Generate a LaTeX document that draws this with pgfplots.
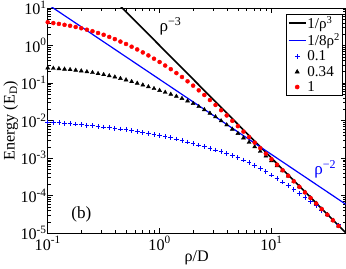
\documentclass[border=0pt]{standalone}
\usepackage{fontspec}
\setmainfont{Liberation Serif}
\usepackage{pgfplots}
\usepackage{pgfplotstable}
\pgfplotsset{compat=1.18}
\pgfplotstableread{
rho a b c
0.1000 0.00912 0.2512 4.17
0.1122 0.00891 0.246 3.96
0.1259 0.00871 0.241 3.76
0.1413 0.00847 0.234 3.55
0.1585 0.00826 0.2275 3.35
0.1778 0.00800 0.219 3.11
0.1995 0.00776 0.210 2.88
0.2239 0.00750 0.1995 2.63
0.2512 0.00724 0.190 2.40
0.2818 0.00698 0.178 2.15
0.3162 0.00673 0.1675 1.93
0.3548 0.00647 0.1556 1.69
0.3981 0.00624 0.1445 1.48
0.4467 0.00597 0.132 1.27
0.5012 0.00571 0.121 1.096
0.5623 0.00543 0.109 0.927
0.6310 0.00516 0.0986 0.785
0.7079 0.00485 0.0885 0.653
0.7943 0.00457 0.0794 0.543
0.8913 0.00428 0.0710 0.444
1.000 0.00400 0.0634 0.363
1.122 0.00372 0.0564 0.292
1.259 0.00347 0.0501 0.234
1.413 0.00320 0.0441 0.184
1.585 0.00295 0.0387 0.1445
1.778 0.00269 0.0332 0.111
1.995 0.00245 0.0285 0.0851
2.239 0.00222 0.02355 0.0638
2.512 0.00202 0.0195 0.0479
2.818 0.00182 0.01567 0.0352
3.162 0.00164 0.01259 0.0260
3.548 0.00147 0.00982 0.01884
3.981 0.00132 0.00767 0.01365
4.467 0.00117 0.00589 0.00982
5.012 0.001035 0.00452 0.00708
5.623 8.91e-4 0.00344 0.00507
6.310 7.67e-4 0.00263 0.00363
7.079 6.41e-4 0.001995 0.00258
7.943 5.37e-4 0.001514 0.00184
8.913 4.37e-4 0.001135 0.00131
10.00 3.55e-4 8.51e-4 9.33e-4
11.22 2.85e-4 6.27e-4 6.64e-4
12.59 2.29e-4 4.62e-4 4.73e-4
14.13 1.83e-4 3.33e-4 3.37e-4
15.85 1.46e-4 2.40e-4 2.40e-4
17.78 1.14e-4 1.71e-4 1.71e-4
19.95 8.91e-5 1.22e-4 1.216e-4
22.39 6.92e-5 8.69e-5 8.63e-5
25.12 5.37e-5 6.17e-5 6.14e-5
28.18 4.03e-5 4.37e-5 4.36e-5
31.62 3.02e-5 3.09e-5 3.09e-5
35.48 2.24e-5 2.19e-5 2.19e-5
39.81 1.66e-5 1.55e-5 1.55e-5
}\datatable
\begin{document}
\begin{tikzpicture}
\begin{loglogaxis}[
  scale only axis, width=295bp, height=223bp,
  xmin=0.1, xmax=46, ymin=1e-5, ymax=10,
  xtick={0.1,1,10},
  xticklabels={10\textsuperscript{-1},10\textsuperscript{0},10\textsuperscript{1}},
  ytick={1e-5,1e-4,1e-3,1e-2,1e-1,1,10},
  yticklabels={10\textsuperscript{-5},10\textsuperscript{-4},10\textsuperscript{-3},10\textsuperscript{-2},10\textsuperscript{-1},10\textsuperscript{0},10\textsuperscript{1}},
  tick label style={font=\fontsize{16}{18}\selectfont, inner sep=1pt},
  xticklabel style={yshift=-2pt},
  label style={font=\fontsize{16}{18}\selectfont},
  xlabel={ρ/D}, ylabel={Energy (E\textsubscript{D})},
  xlabel style={yshift=4pt},
  ylabel style={yshift=-2pt},
  axis line style={line width=0.8pt},
  major tick length=5bp, minor tick length=3bp,
  every tick/.style={black, line width=0.5pt},
  legend cell align=left,
  legend style={at={(0.99,0.975)}, anchor=north east, draw=black, line width=0.6pt,
    font=\fontsize{15}{16}\selectfont, inner sep=1.5pt, row sep=2pt,
    nodes={inner sep=0.8pt}},
]
\addplot[black, line width=1.6pt] coordinates {(0.1,1000) (50,8e-6)};
\addlegendentry{1/ρ\textsuperscript{3}}
\addplot[blue, line width=1.2pt] coordinates {(0.1,12.5) (50,5e-5)};
\addlegendentry{1/8ρ\textsuperscript{2}}
\addplot[only marks, blue, mark=+, mark size=2.3pt, mark options={line width=0.8pt}] table[x=rho, y=a] {\datatable};
\addlegendentry{0.1}
\addplot[only marks, black, mark=triangle*, mark size=2.3pt] table[x=rho, y=b] {\datatable};
\addlegendentry{0.34}
\addplot[only marks, red, mark=*, mark size=2pt] table[x=rho, y=c] {\datatable};
\addlegendentry{1}
\node[anchor=west, font=\fontsize{17}{18}\selectfont] at (axis cs:0.93,3.3) {ρ\textsuperscript{−3}};
\node[anchor=west, blue, font=\fontsize{17}{18}\selectfont] at (axis cs:22.5,5.0e-4) {ρ\textsuperscript{−2}};
\node[font=\fontsize{17}{18}\selectfont] at (axis cs:0.2,3.1e-5) {(b)};
\end{loglogaxis}
\end{tikzpicture}
\end{document}
